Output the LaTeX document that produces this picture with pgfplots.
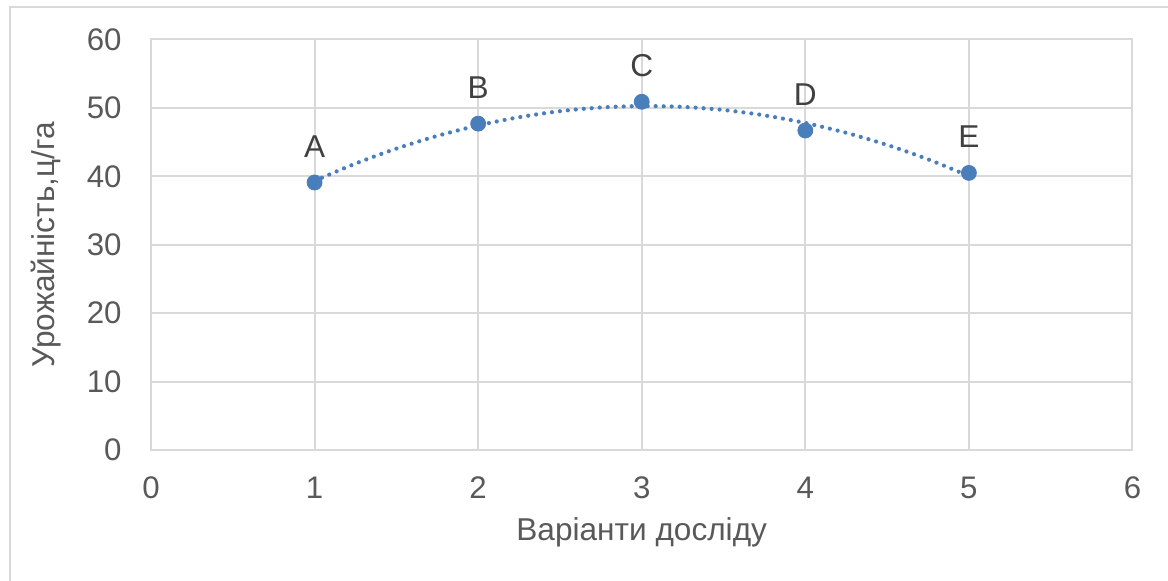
\documentclass[border=0pt]{standalone}
\usepackage{pgfplots}
\pgfplotsset{compat=1.18}
\usepackage{fontspec}
\setmainfont{Liberation Sans}
\definecolor{gridgray}{RGB}{217,217,217}
\definecolor{ticktext}{RGB}{89,89,89}
\definecolor{labtext}{RGB}{64,64,64}
\definecolor{ptblue}{RGB}{74,126,187}
\newcommand{\chartfont}{\fontsize{15.6pt}{18pt}\selectfont}
\newcommand{\titlefont}{\fontsize{15.8pt}{18pt}\selectfont}
\pgfplotstableread{
x y label
1 39.1 A
2 47.7 B
3 50.9 C
4 46.7 D
5 40.5 E
}\pointdata
\pgfplotstableread{
x y
1.00 39.33
1.25 41.86
1.50 44.05
1.75 45.91
2.00 47.44
2.25 48.64
2.50 49.52
2.75 50.06
3.00 50.27
3.25 50.15
3.50 49.70
3.75 48.91
4.00 47.80
4.25 46.36
4.50 44.59
4.75 42.49
5.00 40.05
}\trenddata
\begin{document}
\chartfont
\begin{tikzpicture}
\path[use as bounding box] (-75.5pt,-65.5pt) rectangle (508.5pt,225pt);
\draw[gridgray, line width=1pt] (-70.3pt,-70pt) -- (-70.3pt,221.35pt) -- (512pt,221.35pt);
\begin{axis}[
  at={(0,0)}, anchor=south west,
  scale only axis, width=490.75pt, height=205.25pt,
  xmin=0, xmax=6, ymin=0, ymax=60,
  xtick={0,1,2,3,4,5,6}, ytick={0,10,20,30,40,50,60},
  grid=major, major grid style={gridgray, line width=1pt},
  axis line style={gridgray, line width=1pt},
  major tick length=0pt,
  /pgf/number format/assume math mode=true,
  tick label style={font=\chartfont, text=ticktext, inner sep=0pt},
  yticklabel style={anchor=east, xshift=-14.5pt},
  xticklabel style={anchor=north, yshift=-13.35pt},
  xlabel={Варіанти досліду}, ylabel={Урожайність,ц/га},
  label style={font=\titlefont, text=ticktext, inner sep=0pt},
  xlabel style={at={(axis description cs:0.5,0)}, anchor=base, yshift=-45.35pt},
  ylabel style={at={(axis description cs:-0.0988,0.5)}, anchor=base},
  clip=false,
]
\addplot[ptblue, line width=2.1pt, dash pattern=on 0pt off 4pt, line cap=round, smooth] table[x=x, y=y] {\trenddata};
\addplot[only marks, mark=*, mark size=3.75pt, color=ptblue,
  nodes near coords, point meta=explicit symbolic,
  every node near coord/.append style={anchor=base, yshift=12.5pt, text=labtext, inner sep=0pt, font=\titlefont}]
  table[x=x, y=y, meta=label] {\pointdata};
\end{axis}
\end{tikzpicture}
\end{document}
